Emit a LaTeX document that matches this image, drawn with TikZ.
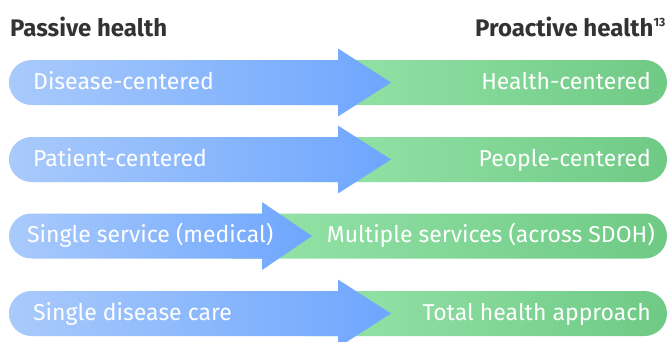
\documentclass[tikz,border=0pt]{standalone}
\usepackage{fontspec}
\setmainfont{Fira Sans}
\definecolor{blueL}{HTML}{A9CAFB}
\definecolor{blueR}{HTML}{6EA6FE}
\definecolor{greenL}{HTML}{96E4A9}
\definecolor{greenR}{HTML}{6FCA85}
\definecolor{titlec}{HTML}{333333}
\tikzset{
  bartext/.style={text=white, inner sep=0pt, font=\fontsize{23}{26}\selectfont},
  titletext/.style={text=titlec, inner sep=0pt, font=\fontsize{24}{28}\selectfont\bfseries},
  bluebar/.style={left color=blueL, right color=blueR},
  greenbar/.style={left color=greenL, right color=greenR}
}
% #1 centre y, #2 arrow base x, #3 tip x
\newcommand\rowshapes[3]{%
  \shade[greenbar] (#2-30,#1-22.5) -- (600,#1-22.5) [rounded corners=22.5pt] -- (667,#1-22.5) -- (667,#1+22.5) -- (600,#1+22.5) [sharp corners] -- (#2-30,#1+22.5) -- cycle;
  \shade[bluebar] (100,#1-22.5) [rounded corners=22.5pt] -- (9,#1-22.5) -- (9,#1+22.5) -- (100,#1+22.5) [sharp corners] -- (#2,#1+22.5) -- (#2,#1+34) -- (#3,#1) -- (#2,#1-34) -- (#2,#1-22.5) -- cycle;
}
\begin{document}
\begin{tikzpicture}[x=1pt,y=-1pt]
\useasboundingbox (0,0) rectangle (668,341);
\node[titletext, anchor=base west] (passive) at (10,36) {Passive health};
\node[titletext, anchor=base east] (proactive) at (666,36) {Proactive health\textsuperscript{\fontsize{12}{13}\selectfont 13}};

\rowshapes{82.5}{338}{391}
\rowshapes{159.5}{338}{391}
\rowshapes{236}{262}{312}
\rowshapes{313.5}{338}{391}

\node[bartext, anchor=base west] (l1) at (33,89) {Disease-centered};
\node[bartext, anchor=base east] (r1) at (651,89) {Health-centered};
\node[bartext, anchor=base west] (l2) at (33,166) {Patient-centered};
\node[bartext, anchor=base east] (r2) at (651,166) {People-centered};
\node[bartext, anchor=base west] (l3) at (27,242.5) {Single service (medical)};
\node[bartext, anchor=base east] (r3) at (655,242.5) {Multiple services (across SDOH)};
\node[bartext, anchor=base west] (l4) at (33,320) {Single disease care};
\node[bartext, anchor=base east] (r4) at (651,320) {Total health approach};
\end{tikzpicture}
\end{document}
